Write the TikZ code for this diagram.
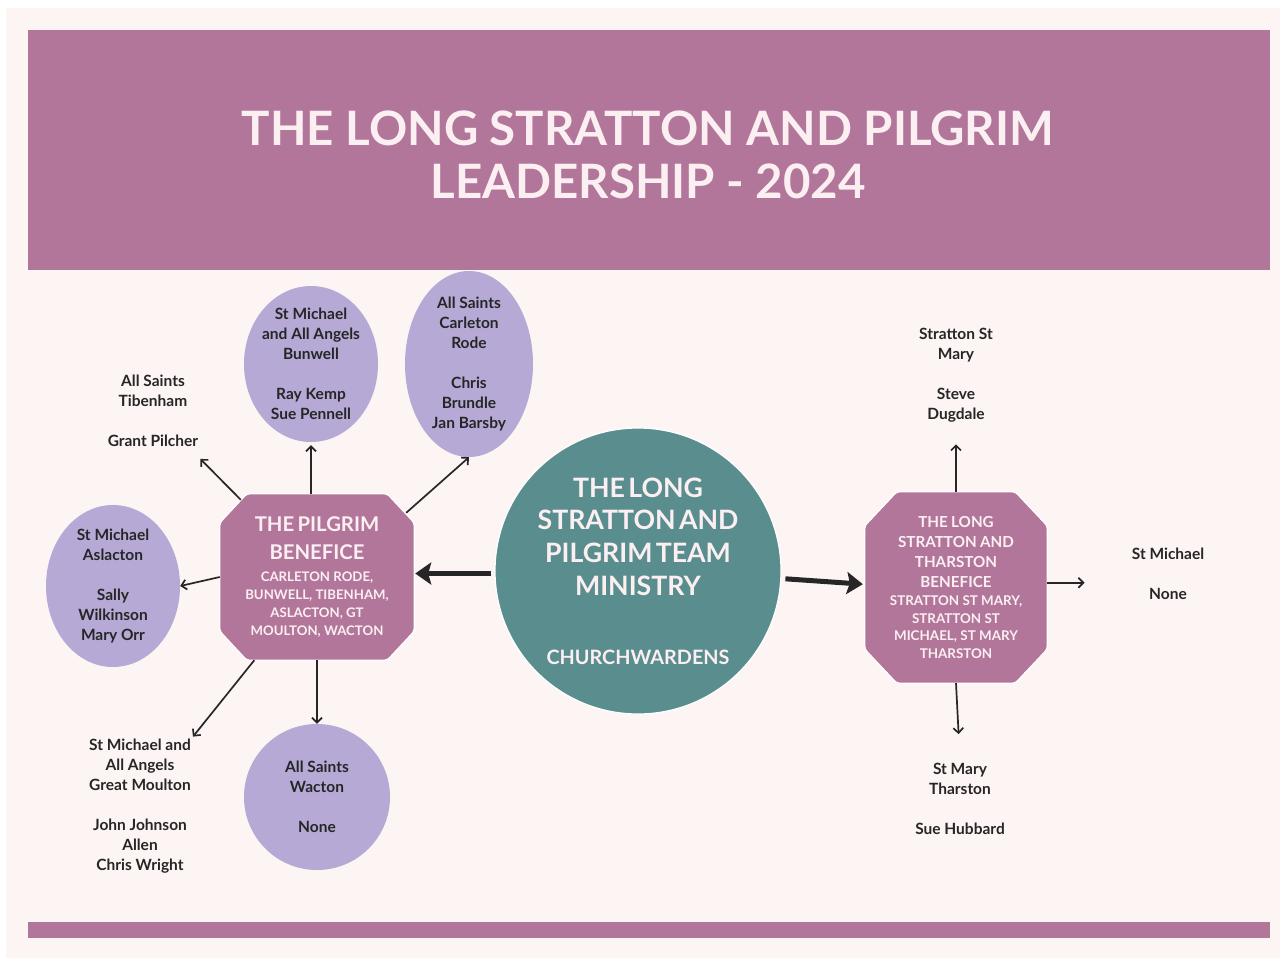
\documentclass[tikz,border=0pt]{standalone}
\usepackage{fontspec}
\setmainfont{Lato}
\usetikzlibrary{shapes.geometric,arrows.meta,calc}
\pgfdeclarelayer{back}
\pgfdeclarelayer{mid}
\pgfsetlayers{back,mid,main}
\definecolor{bgpink}{HTML}{FDF5F4}
\definecolor{mauve}{HTML}{B3769B}
\definecolor{lav}{HTML}{B6A9D6}
\definecolor{tealc}{HTML}{5A8E8E}
\definecolor{ink}{HTML}{262626}
\definecolor{pale}{HTML}{FBEFF2}
\newcommand\octagonof[3]{% node name, chamfer x, chamfer y
  \begin{pgfonlayer}{mid}
  \filldraw[fill=mauve, draw=white, line width=1.2pt, rounded corners=3pt]
    ($(#1.north west)+(#2,0)$) -- ($(#1.north east)+(-#2,0)$) --
    ($(#1.north east)+(0,#3)$) -- ($(#1.south east)+(0,-#3)$) --
    ($(#1.south east)+(-#2,0)$) -- ($(#1.south west)+(#2,0)$) --
    ($(#1.south west)+(0,-#3)$) -- ($(#1.north west)+(0,#3)$) -- cycle;
  \end{pgfonlayer}}
\begin{document}
\begin{tikzpicture}[x=1pt,y=-1pt,
  txt/.style={font=\bfseries\fontsize{15.5}{20}\selectfont, text=ink, align=center, inner sep=2pt},
  oval/.style={ellipse, fill=lav, draw=none, inner sep=-20pt, font=\bfseries\fontsize{15.5}{20}\selectfont, text=ink, align=center},
  octa/.style={rectangle, inner sep=0pt, text=pale, font=\bfseries, align=center},
  arr/.style={-{Straight Barb[length=5pt,width=10pt]}, line width=1.7pt, draw=ink},
  bigarr/.style={-{Stealth[length=16pt,width=22pt,inset=3pt]}, line width=5pt, draw=ink}]
\useasboundingbox (0,0) rectangle (1285,962);
\begin{pgfonlayer}{back}
\fill[white] (0,0) rectangle (1285,962);
\fill[bgpink] (6,8) rectangle (1280,958);
\fill[mauve] (28,30) rectangle (1270,270);
\fill[mauve] (28,922) rectangle (1270,938);
\end{pgfonlayer}
\node[font=\bfseries\fontsize{47.4}{53}\selectfont, text=pale, align=center] (title) at (648,155)
  {THE LONG STRATTON AND PILGRIM\\LEADERSHIP - 2024};

% central circle
\node[circle, minimum size=286pt, fill=tealc, draw=white, line width=1.2pt, inner sep=-6pt,
      text=pale, font=\bfseries, text width=210pt, align=center] (cen) at (638,571)
  {{\fontsize{26.7}{32.7}\selectfont THE LONG\\STRATTON AND\\PILGRIM TEAM\\MINISTRY\par}
   \vspace{47pt}
   {\fontsize{19.8}{22}\selectfont CHURCHWARDENS\par}};

% pilgrim benefice
\node[octa, minimum width=194pt, minimum height=166pt, text width=190pt] (pil) at (317,577)
  {{\fontsize{20.3}{28}\selectfont THE PILGRIM\\BENEFICE\par}
   \vspace{4.3pt}
   {\fontsize{13.2}{17.7}\selectfont CARLETON RODE,\\BUNWELL, TIBENHAM,\\ASLACTON, GT\\MOULTON, WACTON\par}};
\octagonof{pil}{27}{29}

% long stratton and tharston benefice
\node[octa, minimum width=182pt, minimum height=191pt, text width=178pt] (tha) at (956,587.5)
  {{\fontsize{15.2}{20}\selectfont THE LONG\\STRATTON AND\\THARSTON\\BENEFICE\par}
   {\fontsize{13.4}{17.7}\selectfont STRATTON ST MARY,\\STRATTON ST\\MICHAEL, ST MARY\\THARSTON\par}};
\octagonof{tha}{32}{34}

% ovals
\node[oval, minimum width=134pt, minimum height=156pt] (bun) at (311,364)
  {St Michael\\and All Angels\\Bunwell\\[20pt]Ray Kemp\\Sue Pennell};
\node[oval, minimum width=128pt, minimum height=186pt] (car) at (469,364)
  {All Saints\\Carleton\\Rode\\[20pt]Chris\\Brundle\\Jan Barsby};
\node[oval, minimum width=134pt, minimum height=162pt] (asl) at (113,586)
  {St Michael\\Aslacton\\[20pt]Sally\\Wilkinson\\Mary Orr};
\node[oval, minimum width=146pt, minimum height=146pt] (wac) at (317,797)
  {All Saints\\Wacton\\[20pt]None};

% plain text entries
\node[txt] (tib) at (153,411) {All Saints\\Tibenham\\[20pt]Grant Pilcher};
\node[txt] (mou) at (140,806) {St Michael and\\All Angels\\Great Moulton\\[20pt]John Johnson\\Allen\\Chris Wright};
\node[txt] (str) at (956,375) {Stratton St\\Mary\\[20pt]Steve\\Dugdale};
\node[txt] (mic) at (1168,574) {St Michael\\[20pt]None};
\node[txt] (mar) at (960,799) {St Mary\\Tharston\\[20pt]Sue Hubbard};

% connectors from the pilgrim benefice
\draw[arr, shorten >=14pt] ($(pil.north west)+(21,6)$) -- (tib);
\draw[arr, shorten >=3pt] (bun.south |- pil.north) -- (bun.south);
\draw[arr] ($(pil.north east)+(-8,19)$) -- (car.south);
\draw[arr] (pil.west) -- (asl.east);
\draw[arr] (pil.-127) -- (mou.north east);
\draw[arr] (pil.south) -- (wac.north);

% big arrows from the centre
\draw[bigarr, shorten <=3pt, shorten >=1pt] (cen.181) -- (cen.181 -| pil.east);
\draw[bigarr, shorten <=4pt, shorten >=2pt] (cen.-3) -- (tha.178);

% connectors from the stratton benefice
\draw[arr, shorten >=20pt] (tha.north) -- (str.south);
\draw[arr, shorten >=45pt] (tha.3) -- (tha.3 -| mic.west);
\draw[arr, shorten >=27pt] (tha.south) -- (mar.north);
\end{tikzpicture}
\end{document}
